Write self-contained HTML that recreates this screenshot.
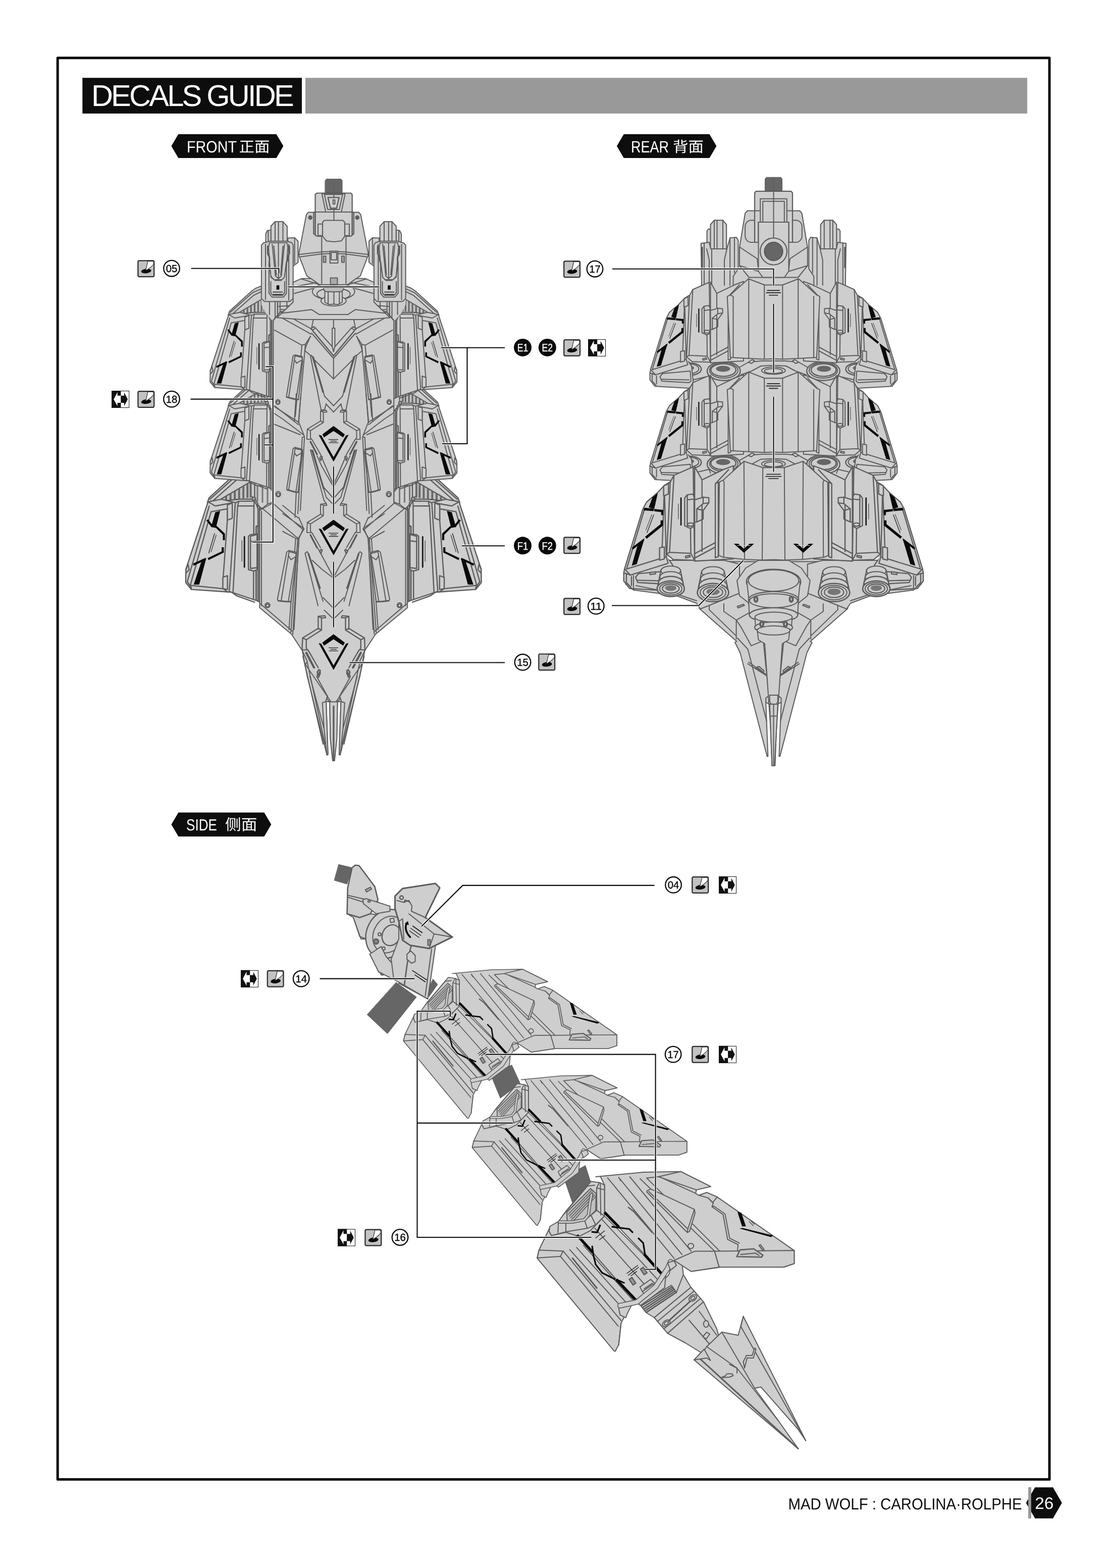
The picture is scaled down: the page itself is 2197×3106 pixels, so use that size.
<!DOCTYPE html>
<html><head><meta charset="utf-8"><title>Decals Guide</title>
<style>
html,body{margin:0;padding:0;background:#fff}
body{width:2197px;height:3106px;overflow:hidden;font-family:"Liberation Sans",sans-serif}
svg{display:block;position:absolute;left:0;top:0;will-change:transform;-webkit-font-smoothing:antialiased}
text{font-family:"Liberation Sans",sans-serif;text-rendering:geometricPrecision}
</style></head><body>
<svg width="2197" height="3106" viewBox="0 0 2197 3106">
<rect x="0" y="0" width="2197" height="3106" fill="#fff"/>
<rect x="114.2" y="114.8" width="1964.8" height="2815.7" fill="none" stroke="#0a0a0a" stroke-width="5" stroke-linejoin="round"/>
<rect x="163.3" y="154.2" width="434.7" height="70.7" fill="#0d0d0d"/>
<rect x="605" y="154.2" width="1430" height="70.7" fill="#999"/>
<text x="180.9" y="210.4" font-size="59.5" fill="#fff" textLength="401.7" lengthAdjust="spacing">DECALS GUIDE</text>
<path d="M340.3,289.4 L353.8,266.5 L547,266.5 L560.5,289.4 L547,312.3 L353.8,312.3Z" fill="#0d0d0d" stroke="#0d0d0d" stroke-width="1.5" stroke-linejoin="round"/>
<text x="370" y="301.8" font-size="32.5" fill="#fff" textLength="99" lengthAdjust="spacingAndGlyphs" style="font-family:'Liberation Sans','Noto Sans CJK SC',sans-serif">FRONT</text>
<text x="473.5" y="300.5" font-size="29" fill="#fff" textLength="61" lengthAdjust="spacingAndGlyphs" style="font-family:'Liberation Sans','Noto Sans CJK SC',sans-serif">正面</text>
<path d="M1222.8,289.4 L1236.3,266.5 L1405,266.5 L1418.5,289.4 L1405,312.3 L1236.3,312.3Z" fill="#0d0d0d" stroke="#0d0d0d" stroke-width="1.5" stroke-linejoin="round"/>
<text x="1250" y="301.8" font-size="32.5" fill="#fff" textLength="75" lengthAdjust="spacingAndGlyphs" style="font-family:'Liberation Sans','Noto Sans CJK SC',sans-serif">REAR</text>
<text x="1333" y="300.5" font-size="29" fill="#fff" textLength="61" lengthAdjust="spacingAndGlyphs" style="font-family:'Liberation Sans','Noto Sans CJK SC',sans-serif">背面</text>
<path d="M340.3,1633.2 L353.8,1610.3 L523,1610.3 L536.5,1633.2 L523,1656.2 L353.8,1656.2Z" fill="#0d0d0d" stroke="#0d0d0d" stroke-width="1.5" stroke-linejoin="round"/>
<text x="369" y="1645" font-size="32" fill="#fff" textLength="61" lengthAdjust="spacingAndGlyphs" style="font-family:'Liberation Sans','Noto Sans CJK SC',sans-serif">SIDE</text>
<text x="446" y="1644" font-size="30" fill="#fff" textLength="63.5" lengthAdjust="spacingAndGlyphs" style="font-family:'Liberation Sans','Noto Sans CJK SC',sans-serif">侧面</text>
<rect x="2037" y="2946" width="5.8" height="62" fill="#999"/>
<path d="M2103.8,2977 2086,3007.8 2050.4,3007.8 2032.6,2977 2050.4,2946.2 2086,2946.2Z" fill="#0d0d0d"/>
<rect x="2037" y="2946" width="5.8" height="62" fill="#999"/>
<text x="1561.5" y="2990.2" font-size="31.5" fill="#0d0d0d" textLength="463" lengthAdjust="spacingAndGlyphs">MAD WOLF : CAROLINA·ROLPHE</text>
<text x="2068.8" y="2988.5" font-size="33" fill="#fff" text-anchor="middle" textLength="37" lengthAdjust="spacingAndGlyphs">26</text>
<defs><g id="fpod" fill="#cecece" stroke="#5c5c5c" stroke-width="2" stroke-linejoin="round" stroke-linecap="round">
<path d="M451.9,624.4 454.8,616.5 498.1,576.9 506.2,571.2 518.1,566.5 530,567.5 530,618.8 535,625 535,635 500,625 465,632.5Z"/>
<path d="M456.2,618.8 500,580 518.1,571.9 M460,622.5 502.5,585 518.1,577.5" fill="none"/>
<path d="M473.1,622.2 474,618.8 521.2,591.2 523.5,592.8 523.5,613.8 528.1,616.2 528.1,618.8 503.8,618.8Z" fill="#c4c4c4"/>
<path d="M481.2,615 484.5,613.1 484.5,620.8 481.2,621.1Z" fill="#686868" stroke="none"/>
<path d="M488.5,610.8 491.8,608.9 491.8,619.9 488.5,620.2Z" fill="#686868" stroke="none"/>
<path d="M495.6,606.5 498.9,604.6 498.9,619 495.6,619.4Z" fill="#686868" stroke="none"/>
<path d="M502.8,602.4 506,600.5 506,618.1 502.8,618.5Z" fill="#686868" stroke="none"/>
<path d="M509.8,598.2 513,596.4 513,617.2 509.8,617.6Z" fill="#686868" stroke="none"/>
<path d="M516.5,594.4 519.8,592.5 519.8,616.5 516.5,616.9Z" fill="#686868" stroke="none"/>
<path d="M521.9,591.1 525.1,589.2 525.1,615.9 521.9,616.2Z" fill="#686868" stroke="none"/>
<path d="M473.1,622.2 503.8,618.8 528.1,618.8" fill="none"/>
<circle cx="528.8" cy="618.1" r="2.8" fill="#aaa" stroke="#5c5c5c" stroke-width="2"/>
<path d="M453.1,623.1 475,618.8 498.1,624.4 495,772.5 485,771.9 425.6,767.8 416.2,756.5 416.5,734.4Z"/>
<path d="M455,630.2 418.8,755 425.6,765 M453.1,623.1 465,630 492.5,625 M416.5,734.4 420,726.2 421.9,735 417.5,740" fill="none"/>
<path d="M458.1,639.4 485,634.8 485,653.1 478.1,747.5 478.1,766.5 423.8,761Z"/>
<path d="M423.8,761 425.6,767.8 M478.1,766.5 485,771.9" fill="none"/>
<path d="M485,628.1 493.1,625.2 493.1,650.2 485,653.5Z"/>
<path d="M477.5,747.8 485.2,745 485.2,767.8 477.5,766.5Z"/>
<path d="M465,640.4 473.1,638.2 466,666.2 458.1,664.8Z" fill="#0a0a0a" stroke="none"/>
<path d="M450.2,654 453.1,651.9 460.6,661.9 459,665.2Z" fill="#0a0a0a" stroke="none"/>
<path d="M464.8,664.8 466.9,662.5 481,675.6 481,686.5 477.5,686.5 477.5,677.5Z" fill="#0a0a0a" stroke="none"/>
<path d="M475.6,698.1 479.1,698.1 479.1,706.9 453.8,719.4 452.5,716 475.6,705Z" fill="#0a0a0a" stroke="none"/>
<path d="M442.5,720.6 450.2,716.2 438.5,759.8 429.4,759.8Z" fill="#0a0a0a" stroke="none"/>
<path d="M428.1,725.2 448.8,715.6 449.8,718.8 429.4,728.8Z" fill="#0a0a0a" stroke="none"/>
<path d="M463.8,675.6 454.4,707.5" fill="none" stroke="#333" stroke-width="1.3"/>
<path d="M466.5,678.1 458.1,705.6" fill="none" stroke="#333" stroke-width="1"/>
<path d="M535,627.5 541.5,635 541.5,790 535,786.9Z"/>
<path d="M538.1,632.5 538.1,788.1" fill="none" stroke="#555" stroke-width="2.4"/>
<path d="M498.1,624.8 503.8,622.2 529.4,622 532.8,626.9 535.6,635 535.6,786.9 530,785 492.5,772.5 488.1,771.2Z"/>
<path d="M503.8,622.2 501.9,630 494.4,771.9 M529.4,622 528.8,630 528.1,783.8 M501.9,630 528.8,630" fill="none"/>
<path d="M535.6,662.5 532.5,663.8 532.5,784.4" fill="none" stroke="#555" stroke-width="2.2"/>
<path d="M519.8,680 523.1,677.5 534,676.2 534,735 528.8,737.5 519.8,735Z"/>
<path d="M523.1,680 534,676.9 534,687.5 523.1,688.8Z"/>
<path d="M523.1,688.8 523.1,733.1 533.8,731.9" fill="none"/>
<path d="M513.1,681 513.1,731" fill="none" stroke="#1a1a1a" stroke-width="2.4" stroke-dasharray="2.2 0.6"/>
<path d="M509,687.5 509,721.2" fill="none" stroke="#444" stroke-width="1.1" stroke-dasharray="1.6 0.8"/>
<path d="M492.5,772.5 500,778.1 530,788.8" fill="none"/>
</g></defs>
<g id="fpodsL" fill="#cecece" stroke="#5c5c5c" stroke-width="2" stroke-linejoin="round" stroke-linecap="round">
<path d="M518,600 543,600 543,1012 518,1012Z" stroke="none"/>
<path d="M519,760 541,757 M519,772 541,769 M519,784 541,781 M519,940 541,937 M519,952 541,949 M519,964 541,961" fill="none" stroke="#777" stroke-width="2.6"/>
<path d="M480,958.8 532.5,963.8 541.2,975 541.2,1000 515,1012.5 500,991.2Z"/>
<path d="M490,962 490,985.5 M500,962.8 500,988.5 M510,963.5 510,991.5 M520,964.2 520,994.5 M530,965.2 530,997.5" fill="none" stroke="#777" stroke-width="3"/>
<use href="#fpod" transform="translate(503,988) scale(1.2) translate(-528.8,-618.1)"/>
<use href="#fpod" transform="translate(0,180)"/>
<use href="#fpod"/>
</g>
<use href="#fpodsL" transform="matrix(-1 0 0 1 1321.5 0)"/>
<g id="fpyl" fill="#cecece" stroke="#5c5c5c" stroke-width="2" stroke-linejoin="round" stroke-linecap="round">
<path d="M517.9,586.2 580.7,586.2 580.7,600.9 563.4,634.2 541.3,636.7 526.5,620.6 517.9,603.4Z" stroke="none"/>
<path d="M533.9,597.2 533.9,623.1 M568.4,597.2 568.4,618.2" fill="none"/>
<path d="M545,596 554.8,596 554.8,629.3 545,629.3Z"/>
<path d="M549.9,596 549.9,629.3" fill="none" stroke-width="2.4"/>
<path d="M570.3,471.6 583.6,470.9 590.5,477.8 590.5,519.7 580.7,527 570.3,527Z"/>
<path d="M583.6,470.9 583.6,522.1" fill="none"/>
<path d="M526.5,463 529.7,456.8 536.8,455.6 536.8,480.2 526.5,480.2Z"/>
<path d="M531.4,456.8 531.4,480.2" fill="none"/>
<path d="M536.8,447.7 545,439.1 560.5,439.1 568.9,448.2 568.9,480.2 536.8,480.2Z"/>
<path d="M545,439.1 545,480.2 M551.6,439.1 551.6,480.2 M560.5,439.1 560.5,480.2" fill="none"/>
<path d="M517.9,485.7 521.6,481.5 533.9,477.8 568.4,477.8 577.7,480.7 580.7,485.2 580.7,591.1 574.5,597.2 524,597.2 517.9,591.1Z"/>
<path d="M526,483.9 526,593.5 M572.1,483.9 572.1,594.8" fill="none"/>
<path d="M533.9,480.7 568.4,480.7 570.3,490.1 565.9,546.7 559.8,554.1 542.5,554.1 536.4,546.7 531.9,490.1Z"/>
<path d="M539.3,483.9 545.7,546.7 551.6,551.7 557.3,546.7 563.4,483.9 M551.6,480.7 551.6,552.9 M542.5,487.6 547.4,544.3 M560.5,487.6 556.1,544.3" fill="none"/>
<path d="M530.2,487.6 530.2,502.4 533.9,509.8 533.9,517.2 M573.3,487.6 573.3,502.4 569.6,509.8 569.6,517.2" fill="none" stroke="#555" stroke-width="2.6"/>
<path d="M532.9,518.4 532.9,581.2 539.3,588.6 561.5,588.6 567.4,581.2 567.4,518.4 563.4,549.2 557.3,555.4 545,555.4 536.8,549.2Z"/>
<path d="M536.4,557.8 536.4,580 540.8,584.9 559.8,584.9 563.9,580 563.9,557.8" fill="none"/>
<path d="M547.7,565.2 553.3,565.2 553.3,573.8 547.7,573.8Z" fill="#0a0a0a" stroke="none"/>
<path d="M540.8,578.5 559.8,578.5" fill="none" stroke="#222" stroke-width="1.5" stroke-dasharray="1.4 0.5"/>
<path d="M541.5,583.2 559,583.2" fill="none" stroke="#222" stroke-width="1.5" stroke-dasharray="1.4 0.5"/>
</g>
<use href="#fpyl" transform="matrix(-1 0 0 1 1321.5 0)"/>
<g id="fhullC" fill="#cecece" stroke="#5c5c5c" stroke-width="2" stroke-linejoin="round" stroke-linecap="round">
<path d="M660.8,600 556,617.5 541.3,634.5 541.3,996 514.3,1011 514.3,1203.8 577.5,1256.2 598.8,1288.8 608.7,1340 647.6,1495.5 649.7,1494.6 646.1,1389.5 653.1,1390.2 654.5,1462.7 659.1,1506.7 662.4,1506.7 667,1462.7 668.4,1390.2 675.4,1389.5 671.8,1494.6 673.9,1495.5 712.8,1340 722.7,1288.8 744,1256.2 807.2,1203.8 807.2,1011 780.2,996 780.2,634.5 765.5,617.5 660.8,600Z"/>
</g>
<defs><g id="femb" fill="#cecece" stroke="#5c5c5c" stroke-width="2" stroke-linejoin="round" stroke-linecap="round">
<path d="M638.5,860.4 660.8,843.8 683.1,860.4 679.8,866.6 660.8,853.8 641.9,866.6Z" fill="#0a0a0a" stroke="none"/>
<path d="M631.2,861.5 636.5,862.5 660.8,905.6 685.4,862.5 690.6,861.5 660.8,914.4Z" fill="#0a0a0a" stroke="none"/>
<path d="M651.4,870.6 670.1,870.6" fill="none" stroke="#222" stroke-width="1.3" stroke-dasharray="1.2 0.5"/>
<path d="M655.1,873.8 666.4,873.8" fill="none" stroke="#222" stroke-width="1.3" stroke-dasharray="1.2 0.5"/>
<path d="M652,876.9 669.5,876.9" fill="none" stroke="#222" stroke-width="1.3" stroke-dasharray="1.2 0.5"/>
</g><g id="fhouse" fill="#cecece" stroke="#5c5c5c" stroke-width="2" stroke-linejoin="round" stroke-linecap="round">
<path d="M646.2,812.8 635,814 635,834 608.8,850.2 607.9,870 615,870.2 M647.5,816.2 640.6,816.5 640.6,836.9 615,853.1 615,867.5 618.8,871.9 M646.2,812.8 647.5,816.2 M635,814 640.6,816.5 M635,834 640.6,836.9 M608.8,850.2 615,853.1" fill="none"/>
<path d="M615,875 628.1,900" fill="none" stroke="#5a5a5a" stroke-width="3.4"/>
<path d="M618.8,871.9 635,900" fill="none"/>
<path d="M633.1,907.5 636.2,903.1 638.8,905 635.6,912.5Z" fill="#999"/>
</g></defs>
<g id="fhullL" fill="#cecece" stroke="#5c5c5c" stroke-width="2" stroke-linejoin="round" stroke-linecap="round">
<path d="M551.9,606.9 611.9,603.1 625,612.8 M556.9,613.1 623.8,617.5 M541.9,634.4 555.6,617.5 617.5,651.9 M551.2,625.6 616.2,661.9 M543.8,653.8 598.1,683.8 605,681.9 615,666.2 M598.1,683.8 585,825 M605,681.9 591.2,837.5 M624.6,614.4 616.6,653.1 M624.6,614.4 660.8,614.4" fill="none"/>
<path d="M628.1,620 631.2,618.1 638.8,629.4 635.6,631.2Z" fill="#999"/>
<path d="M616.2,650.6 621.9,646.9 625,650 619.4,653.8Z"/>
<path d="M625,649.4 658.8,687.5" fill="none"/>
<path d="M619.4,655 660.8,705" fill="none" stroke-width="2.6"/>
<path d="M617.5,660 660.8,710 M615,666.2 606.2,686.2 603.8,694.4 616.2,705 M622.5,712.5 660.8,750.6 M615,705 636.2,812.5 M616.2,703.8 618.1,705 643.1,785" fill="none"/>
<path d="M620.2,707.5 640,776.2" fill="none" stroke="#5a5a5a" stroke-width="3.6"/>
<path d="M636.2,812.5 643.1,811.2 646.2,800 M643.1,785 660.8,803.8 M645.6,800 660.8,816.2" fill="none"/>
<path d="M580.6,705 584.4,703.1 598.8,706.2 599.4,716.2 591.2,791.2 585,791 568.1,786.5 567.5,785Z"/>
<path d="M584.6,703.8 571.9,786.9 M598.1,714.4 586.9,790.6 M585,705 598.1,707.8 599,712.5 587.5,719.4 584,713.8" fill="none"/>
<path d="M568.1,786.5 585,791 591.2,791.2" fill="none" stroke-width="3"/>
<ellipse cx="550.6" cy="796.2" rx="4.2" ry="4.8" fill="#cecece" stroke="#5c5c5c" stroke-width="2"/>
<ellipse cx="550.6" cy="797.2" rx="2.8" ry="3" fill="#cecece" stroke="#5c5c5c" stroke-width="2"/>
<path d="M543.8,803.8 591.2,841.2 M542.5,840 595,861.2 M615,891.2 641.9,991.2 M615,891.2 619.8,892.5 646.2,985" fill="none"/>
<path d="M618.5,892.5 641,967.5" fill="none" stroke="#5a5a5a" stroke-width="3.4"/>
<path d="M635,900.6 659.4,957.5 M628.1,903.1 637.5,923.8 658.8,961.2 M641,965 660.8,987.5 M646.2,985 660.8,1000 M641.9,991.2 646.2,997.5" fill="none"/>
<path d="M580.6,888.8 584.4,886.2 598.8,890 599.4,897.5 590.6,975 585,974.8 568.8,970.2 568.1,967.5Z"/>
<path d="M584.8,887.2 571.9,970.6 M598.1,896.9 586.2,974.4 M585,888.8 598.1,891.5 599,896.2 587.5,903.1 584,897.5" fill="none"/>
<path d="M568.8,970.2 585,974.8 590.6,975" fill="none" stroke-width="3"/>
<path d="M586.9,780 583.1,835 M596.2,780 591.9,836.2 603.1,865 598.8,866.2 590,1017.5 M603.1,866.2 595,1011.2 M560,816.2 591.2,836.2 M560,830 601.2,861.2 M541.2,817.5 560,830 M541.2,803.8 560,816.2 M604.4,1096.2 630,1200 M604.4,1096.2 608.1,1092.8 610,1094.4 640,1191.2" fill="none"/>
<path d="M611.2,1097.5 633.8,1165" fill="none" stroke="#5a5a5a" stroke-width="3.4"/>
<path d="M630,1086.2 659.4,1141.2 M618.8,1110 637.5,1127.5 658.8,1143.8 M640,1183.8 660.8,1205 M642.5,1208.8 660.8,1226.2 M586.9,975 584.4,1025 M591.9,1025 601.2,1046.2 592.5,1066.2 585.6,1067.5 572.5,1247 M591.9,1068.8 582.5,1247 M560,1001.2 591.2,1026.2 M560,1017.5 601.2,1046.2 M560,1052.5 585,1066.2 M514.2,1011.2 530,998.8 540,995 M518,1012.5 518,1200 M518.8,1006.2 590,1066.2 M540,996.2 601.2,1050" fill="none"/>
<path d="M568,1093.8 572.5,1090.5 586.2,1093.8 587.5,1102.5 576.2,1192 565,1191.5 551.2,1190 549.5,1187.5Z"/>
<path d="M573,1091.2 557,1190 M586.2,1100 571.2,1191.2 M573.8,1093 586.2,1096.2 587,1102 576.2,1108.8 571.2,1100" fill="none"/>
<path d="M551.2,1190 565,1191.5 576.2,1192" fill="none" stroke-width="3"/>
<path d="M590,1065 576.2,1252.5 M602.5,1047.5 592.5,1063.8 580,1256.2 M516.2,1196.2 578.8,1250" fill="none"/>
<circle cx="530" cy="1198.8" r="4.8" fill="#cecece" stroke="#5c5c5c" stroke-width="2"/>
<circle cx="530" cy="1199.5" r="3" fill="#cecece" stroke="#5c5c5c" stroke-width="2"/>
<ellipse cx="551.2" cy="978.8" rx="4.8" ry="5.2" fill="#cecece" stroke="#5c5c5c" stroke-width="2"/>
<ellipse cx="551.2" cy="979.8" rx="3" ry="3.2" fill="#cecece" stroke="#5c5c5c" stroke-width="2"/>
<path d="M598.8,1288.8 608.8,1310 605,1316.2 660.8,1397.5 M600,1300 640,1474 M608.8,1312.5 643.8,1474" fill="none"/>
<path d="M628,1337.5 632,1330.5 635,1333 631.2,1342Z" fill="#999"/>
<path d="M627.2,1340 648.6,1378.7 647.6,1384.3 660.9,1398.4 M613.9,1340 642,1443.4" fill="none"/>
<path d="M638.7,1392 646.1,1389.5 649.7,1494.6 647.6,1495.5 642,1443.4Z"/>
<path d="M648.6,1378.7 645.2,1389.5" fill="none"/>
<use href="#fhouse"/>
<use href="#fhouse" transform="translate(0,184.7)"/>
<use href="#fhouse" transform="translate(660.8,1256.2) scale(1.18) translate(-660.8,-843.8)"/>
</g>
<use href="#fhullL" transform="matrix(-1 0 0 1 1321.5 0)"/>
<g id="fhullC2" fill="#cecece" stroke="#5c5c5c" stroke-width="2" stroke-linejoin="round" stroke-linecap="round">
<path d="M660.8,603.1 660.8,650" fill="none"/>
<path d="M658.1,650 663.4,650 663.4,686.2 660.8,696.9 658.1,686.2Z"/>
<path d="M660.8,710 660.8,750.6" fill="none"/>
<path d="M653.1,1390.2 654.5,1462.7 659.1,1506.7 662.7,1506.7 667.4,1462.7 668.6,1390.2Z"/>
<path d="M660.9,1399.1 660.9,1506.3" fill="none" stroke="#5a5a5a" stroke-width="3.2"/>
<use href="#femb"/>
<use href="#femb" transform="translate(0,185.6)"/>
<use href="#femb" transform="translate(0,412.5)"/>
</g>
<g id="fhead" fill="#cecece" stroke="#5c5c5c" stroke-width="2" stroke-linejoin="round" stroke-linecap="round">
<path d="M661.5,549.2 632.4,551.7 597.9,551.7 580.7,559.1 580.7,598.5 548.7,629.3 597.9,633 661.5,633 660,633 723.6,633 772.8,629.3 740.8,598.5 740.8,559.1 723.6,551.7 689.1,551.7 660,549.2Z"/>
<path d="M557.3,620.6 617.6,613.3 632.4,623.1 661.5,623.1 660,623.1 689.1,623.1 703.9,613.3 764.2,620.6" fill="none"/>
<ellipse cx="660.8" cy="577.5" rx="42" ry="17" />
<ellipse cx="660.8" cy="582.5" rx="33" ry="12" />
<ellipse cx="660.8" cy="596" rx="25" ry="10" />
<path d="M643.5,572.6 643.5,598.5 652.1,603.4 661.5,602.2 660,602.2 669.4,603.4 678,598.5 678,572.6Z"/>
<path d="M650.1,576.3 650.1,600.9 M672.3,576.3 672.3,600.9 M661.5,576.3 661.5,602.2" fill="none"/>
<path d="M641,570.1 641,573.8 644.7,577.5 661.5,578.3 660,578.3 676.8,577.5 680.5,573.8 680.5,570.1Z" fill="#bbb"/>
<path d="M572.1,570.1 630,559.1 M583.2,581.2 632.4,567.7 M750.6,570.1 692.8,559.1 M739.6,581.2 690.3,567.7" fill="none"/>
<path d="M661.5,420.6 610.7,420.6 607,424.8 592,502.4 592.5,506.8 607.8,546.7 617.6,552.9 632.4,563.5 661.5,564.5 660,564.5 689.1,563.5 703.9,552.9 713.7,546.7 729,506.8 729.5,502.4 714.5,424.8 710.8,420.6 660,420.6Z"/>
<path d="M593,503.9 637.3,499 661.5,498 660,498 684.2,499 728.5,503.9 M595,508.8 637.3,502.9 661.5,501.9 660,501.9 684.2,502.9 726.5,508.8 M637.3,467.9 637.3,561.5 M685.4,467.9 685.4,561.5" fill="none"/>
<circle cx="614.7" cy="431" r="3.2" fill="#cecece" stroke="#5c5c5c" stroke-width="2.4"/>
<circle cx="707.8" cy="431" r="3.2" fill="#cecece" stroke="#5c5c5c" stroke-width="2.4"/>
<circle cx="614.7" cy="431" r="1.2" fill="#cecece" stroke="#5c5c5c" stroke-width="2"/>
<circle cx="707.8" cy="431" r="1.2" fill="#cecece" stroke="#5c5c5c" stroke-width="2"/>
<path d="M653.6,497.5 669.4,497.5 669.4,520.9 653.6,520.9Z"/>
<path d="M656.1,500 666.9,500 666.9,514.7 656.1,514.7Z"/>
<path d="M640.5,507.3 645.5,507.3 645.5,519.7 640.5,519.7Z" fill="#aaa"/>
<path d="M677,507.3 681.9,507.3 681.9,519.7 677,519.7Z" fill="#aaa"/>
<path d="M654.6,550.4 668.4,550.4 668.4,563.5 654.6,563.5Z" fill="#aaa"/>
<path d="M597.9,552.9 632.4,563.5 M724.8,552.9 690.3,563.5" fill="none"/>
<path d="M621.3,421.1 624.5,419.9 624.5,385.4 627.5,382.5 695.2,382.5 697.7,385.4 697.7,419.9 700.9,421.1 700.9,463 695.2,467.9 685.4,467.9 685.4,445.8 637.3,445.8 637.3,467.9 627.5,467.9 621.3,463Z" stroke-width="2.2"/>
<path d="M624.5,419.9 697.7,419.9" fill="none"/>
<path d="M624.5,421.6 624.5,464.2 M697.7,421.6 697.7,464.2" fill="none" stroke="#555" stroke-width="2.4"/>
<path d="M637.8,383.7 645.2,419.9 661.5,419.9 660,419.9 676.3,419.9 683.7,383.7Z"/>
<path d="M642.8,385.2 649.2,415 661.5,415 660,415 672.3,415 678.7,385.2Z"/>
<path d="M649.7,391.1 654.6,412.5 661.5,412.5 660,412.5 666.9,412.5 671.8,391.1Z" stroke-width="2.4"/>
<path d="M659.8,396 663.4,396 663.4,403.9 659.8,403.9Z"/>
<path d="M661.5,382.5 661.5,391.6 M661.5,415 661.5,437.1" fill="none"/>
<path d="M630,443.8 639.1,443.8 639.1,466.7 630,466.7Z"/>
<path d="M682.9,443.8 692,443.8 692,466.7 682.9,466.7Z"/>
<path d="M639.1,440.3 642.8,436.4 679.2,436.4 682.9,440.3 682.9,467.9 676.3,477.3 661.5,479 646.7,477.3 639.1,467.9Z"/>
<path d="M644.2,357.6 646.7,354.6 675.5,354.6 678,357.6 678,381.7 644.2,381.7Z" fill="#666" stroke="#5a5a5a" stroke-width="1"/>
<path d="M661.5,357.6 661.5,380.5" fill="none" stroke="#5a5a5a" stroke-width="1"/>
</g>
<defs><g id="rpod" fill="#cecece" stroke="#5c5c5c" stroke-width="2" stroke-linejoin="round" stroke-linecap="round">
<path d="M1287.5,738.8 1288.8,731.9 1360,711.2 1370,725 1373.8,760 1365,769 1297.5,765.2 1287.5,752.5Z"/>
<path d="M1291.9,740 1291.9,755 1300,763.8 M1300.6,745 1300.6,760" fill="none"/>
<path d="M1307.5,746.2 1312.5,740 1367.5,735 1368.8,755 1365,758.1 1311.2,755Z"/>
<path d="M1310,751.2 1365,752.5 M1287.5,738.8 1291.9,740 1298.8,742.5" fill="none"/>
<path d="M1355,590 1368.8,582.5 1363.1,717.5 1350,717.5Z" stroke="none"/>
<path d="M1367.5,583.8 1356.2,590.6 1343.8,603.8 1326.2,618.8 1320,630.2 1288.8,731.9 1298.8,742.5 1362.5,722.5 1359.4,711.2 1356.2,595 1363.1,587.5Z"/>
<path d="M1322.8,630.2 1292.2,732.2 M1292.2,732.2 1359.4,711.5 M1356.2,595 1352.5,695.6" fill="none"/>
<path d="M1355,591.5 1363.1,587.8 1363.1,605.2 1355,608.5Z"/>
<path d="M1348.1,696.2 1356.2,694.8 1356.2,715 1348.1,717.2Z"/>
<path d="M1336.2,610.6 1345.2,603.5 1339,630.6 1329.8,627.8Z" fill="#0a0a0a" stroke="none"/>
<path d="M1322.2,628.5 1338.5,630 1338.1,634.2 1321,632.8Z" fill="#0a0a0a" stroke="none"/>
<path d="M1339.1,630.5 1354.5,632 1354.5,641 1350.8,641 1350.8,635.8 1339.1,634.5Z" fill="#0a0a0a" stroke="none"/>
<path d="M1349.8,649.8 1354,649.8 1354,658.5 1326.2,681 1323.5,677.5 1349.8,656.2Z" fill="#0a0a0a" stroke="none"/>
<path d="M1311.2,690.6 1322.8,679.8 1309.5,724 1301,726.5Z" fill="#0a0a0a" stroke="none"/>
<path d="M1301.2,696 1321,681 1322.2,683.8 1302.8,699.4Z" fill="#0a0a0a" stroke="none"/>
<path d="M1338.1,640.6 1326.9,670.6" fill="none" stroke="#333" stroke-width="1.3" stroke-dasharray="1.5 0.6"/>
<path d="M1335,640 1325,666.2" fill="none" stroke="#444" stroke-width="1" stroke-dasharray="1.5 0.6"/>
<path d="M1366.2,585 1372.5,573.5 1404.4,559.4 1405.2,565 1407.5,717.5 1371.2,716.2 1360.2,706.9Z"/>
<path d="M1372.5,573.5 1365,704 1401,705.6 1407.5,717.5 M1365,704 1360.2,706.9 M1401,705.6 1400,620" fill="none"/>
<path d="M1391.9,710.6 1399.4,708.8 1400,711.5 1392.5,713.5Z"/>
<path d="M1390.6,611.9 1395,606.5 1404.4,605.2 1406.5,610 1406.5,660 1400,663.5 1390.6,659Z"/>
<path d="M1395,607.5 1395,660.6 M1395,615 1406.2,613.8" fill="none"/>
<ellipse cx="1400.6" cy="656.9" rx="5.2" ry="2.8"/>
<path d="M1407.5,615 1421.9,610.6 1431.5,611.5 1431.5,620 1421.9,621.5 1411.2,630.2 1411.2,652.5 1407.5,652.5Z"/>
<path d="M1421.9,610.6 1421.9,621.5 M1411.2,630.2 1421.9,633.1 1431.5,620 M1421.9,633.1 1421.9,647.5 1411.2,652.5" fill="none"/>
<path d="M1384.4,612.2 1384.4,657.5" fill="none" stroke="#1a1a1a" stroke-width="2.4" stroke-dasharray="2.2 0.6"/>
<path d="M1380,621.9 1380,648.1" fill="none" stroke="#444" stroke-width="1.1" stroke-dasharray="1.6 0.8"/>
</g><g id="rsegL" fill="#cecece" stroke="#5c5c5c" stroke-width="2" stroke-linejoin="round" stroke-linecap="round">
<path d="M1407.5,558.8 1420,581.2 1456.2,563.8 1473,557.5 1473,715 1407.5,718.8Z"/>
<path d="M1420,581.2 1420,702.5 M1442.5,587.8 1465,564" fill="none"/>
<path d="M1442.5,587.8 1447.5,585 1447.5,711.2 1442.5,713.1Z"/>
<path d="M1407.5,706.2 1442.5,687.5 M1407.5,713.8 1442.5,695" fill="none"/>
</g><g id="rbellsS" fill="#cecece" stroke="#5c5c5c" stroke-width="2" stroke-linejoin="round" stroke-linecap="round">
<path d="M1357.5,712.5 1442.5,677.5 1532.5,677.5 1532.5,765 1407.5,752.5 1370,768.8Z" stroke="none"/>
<ellipse cx="1433.8" cy="735" rx="32.8" ry="18.8" stroke-width="2.4"/>
<ellipse cx="1433.8" cy="733.8" rx="28.1" ry="15.2"/>
<ellipse cx="1433.1" cy="733.1" rx="24.8" ry="12.5" stroke-width="2.4"/>
<ellipse cx="1432.5" cy="730.6" rx="14" ry="6" fill="#666" stroke="none"/>
<ellipse cx="1366.2" cy="731.2" rx="23.1" ry="12.2" stroke-width="2.4"/>
<ellipse cx="1365.6" cy="730.6" rx="18.8" ry="9.5"/>
<ellipse cx="1363.1" cy="729" rx="11.9" ry="5.2" fill="#666" stroke="none"/>
<path d="M1372.5,752.5 1405,745 1407.5,752.5 M1465,727.5 1482.5,717.5 1507.5,715 1532.5,715 M1467.5,742.5 1488.8,735 1507.5,725 1532.5,723.8" fill="none"/>
<path d="M1482.5,717.5 1490,712.5 1495,715 1488.8,720Z"/>
</g><g id="rblk" fill="#cecece" stroke="#5c5c5c" stroke-width="2" stroke-linejoin="round" stroke-linecap="round">
<ellipse cx="1532.3" cy="734.1" rx="23.6" ry="7.2"/>
<ellipse cx="1532.3" cy="735" rx="17.9" ry="4.9"/>
<path d="M1532.3,564.5 1514.7,564.5 1482.7,552.2 1446.9,584.3 1440.7,587.1 1446.9,708.1 1482.7,710 1514.2,711.5 1532.3,710.7 1532.5,710.7 1550.6,711.5 1582.1,710 1617.9,708.1 1624.1,587.1 1617.9,584.3 1582.1,552.2 1550.1,564.5 1532.5,564.5Z"/>
<path d="M1446.9,584.3 1452.5,587.1 1452.5,708.1 M1483.3,552.8 1483.3,710 M1514.2,564.5 1514.2,711.1 M1612,587.1 1612,708.1 M1581.2,552.8 1581.2,710 M1550.3,564.5 1550.3,711.1" fill="none"/>
<path d="M1520,575.4 1544.5,575.4" fill="none" stroke="#1a1a1a" stroke-width="1.6" stroke-dasharray="1.3 0.45"/>
<path d="M1518.1,579.9 1546.4,579.9" fill="none" stroke="#1a1a1a" stroke-width="1.6" stroke-dasharray="1.3 0.45"/>
<path d="M1523.8,584.7 1540.7,584.7" fill="none" stroke="#1a1a1a" stroke-width="1.6" stroke-dasharray="1.3 0.45"/>
</g></defs>
<g id="rback" fill="#cecece" stroke="#5c5c5c" stroke-width="2" stroke-linejoin="round" stroke-linecap="round">
<path d="M1532.4,526 1458,526 1404,600 1404,930 1372,930 1372,1180 1392,1195 1532.4,1195 1532.4,1195 1672.8,1195 1692.8,1180 1692.8,930 1660.8,930 1660.8,600 1606.8,526 1532.4,526Z" stroke="none"/>
</g>
<g id="rpyl" fill="#cecece" stroke="#5c5c5c" stroke-width="2" stroke-linejoin="round" stroke-linecap="round">
<path d="M1400.5,457.5 1403,453.8 1408,453.8 1408,493.8 1400.5,493.8Z"/>
<path d="M1407.5,445 1415,436.2 1432,436.2 1439.2,445 1439.2,493.8 1407.5,493.8Z"/>
<path d="M1415,436.2 1415,493.8 M1420.5,436.2 1420.5,493.8 M1432,436.2 1432,493.8" fill="none"/>
<path d="M1388.8,482 1405,480 1408,493 1440,493 1446.2,471.2 1458.8,470 1462.5,476.2 1462.5,532.5 1452.5,547.5 1452.5,566.2 1390,566.2Z"/>
<path d="M1390,565 1452.5,565 1452.5,592.5 1390,592.5Z" stroke="none"/>
<path d="M1395,481.2 1395,566.2 M1410,493 1410,566.2 M1400,493 1405,515 1405,565 M1446.2,471.2 1446.2,565 M1440,493 1435,515 1435,565 M1455,471.2 1455,540" fill="none"/>
<path d="M1391.2,490 1391.2,530" fill="none" stroke="#555" stroke-width="2.6"/>
</g>
<use href="#rpyl" transform="matrix(-1 0 0 1 3064.8 0)"/>
<g id="rhead" fill="#cecece" stroke="#5c5c5c" stroke-width="2" stroke-linejoin="round" stroke-linecap="round">
<path d="M1532.5,417.5 1480.5,417.5 1476.2,422.5 1465,490 1465,526.2 1483.8,549.5 1532.5,549.5 1532.3,549.5 1581.1,549.5 1599.8,526.2 1599.8,490 1588.6,422.5 1584.3,417.5 1532.3,417.5Z"/>
<rect x="1476.2" y="436.2" width="26.8" height="43.8" rx="12.5"/>
<rect x="1562" y="436.2" width="26.8" height="43.8" rx="12.5"/>
<path d="M1466.2,490 1500,512.5 1502.5,535 M1598.8,490 1565,512.5 1562.5,535 M1465,526.2 1502.5,537.5 M1600,526.2 1562.5,537.5" fill="none"/>
<path d="M1495,382 1498,378.8 1567,378.8 1570,382 1570,480 1562.5,480 1562.5,440 1502.5,440 1502.5,480 1495,480Z" stroke-width="2.2"/>
<path d="M1506.2,440 1506.2,393.8 1558.8,393.8 1558.8,440 M1511.2,440 1511.2,398.8 1553.8,398.8 1553.8,440 M1495,417.5 1506.2,417.5 M1558.8,417.5 1570,417.5" fill="none"/>
<path d="M1502.5,440 1562.5,440 1562.5,537.5 1553.8,549.5 1511.2,549.5 1502.5,537.5Z"/>
<path d="M1532.5,378.8 1532.5,472.5" fill="none"/>
<circle cx="1532.5" cy="498" r="26.5" fill="#cecece" stroke="#5c5c5c" stroke-width="2.2"/>
<circle cx="1532.5" cy="498" r="18.2" fill="#666" stroke="#5a5a5a" stroke-width="2"/>
<path d="M1515.8,354.2 1518.2,351.2 1547,351.2 1549.5,354.2 1549.5,378 1515.8,378Z" fill="#666" stroke="#5a5a5a" stroke-width="1"/>
<path d="M1532.5,352.5 1532.5,377.5" fill="none" stroke="#5a5a5a" stroke-width="1"/>
</g>
<g id="rsegsL" fill="#cecece" stroke="#5c5c5c" stroke-width="2" stroke-linejoin="round" stroke-linecap="round">
<use href="#rbellsS"/>
<use href="#rsegL"/>
<use href="#rpod"/>
<use href="#rbellsS" transform="translate(0,184.7)"/>
<use href="#rsegL" transform="translate(0,184.7)"/>
<use href="#rpod" transform="translate(0,184.7)"/>
</g>
<use href="#rsegsL" transform="matrix(-1 0 0 1 3064.8 0)"/>
<use href="#rblk"/>
<use href="#rblk" transform="translate(0,184.7)"/>
<g id="rbot" fill="#cecece" stroke="#5c5c5c" stroke-width="2" stroke-linejoin="round" stroke-linecap="round">
<path d="M1532.5,1112.5 1430,1112.5 1385,1198.8 1385.5,1205.5 1459.5,1270.5 1456,1272.5 1466.2,1292.8 1519.7,1498.3 1521.4,1498.3 1517.2,1391.3 1524.8,1394.7 1529.4,1516.6 1535.4,1516.6 1540,1394.7 1547.6,1391.3 1543.4,1498.3 1545.1,1498.3 1598.6,1292.8 1608.8,1272.5 1605.3,1270.5 1679.3,1205.5 1679.8,1198.8 1634.8,1112.5 1532.3,1112.5Z"/>
</g>
<g id="rbotL" fill="#cecece" stroke="#5c5c5c" stroke-width="2" stroke-linejoin="round" stroke-linecap="round">
<path d="M1405.1,1196 1405.1,1207.9 1457.7,1258.9 M1461.1,1264 1481.5,1286 1518.9,1428.7 M1458.6,1228.3 1458.6,1265.7 M1434,1196 1434,1211.3 1458.6,1228.3 1488.3,1211.3 1481.5,1190.9 M1467.9,1241.9 1488.3,1279.2 1512.1,1269.1 M1458.6,1228.3 1467.9,1241.9" fill="none"/>
<path d="M1460.3,1201.1 1473,1196.9 1474.7,1199.4 1462,1204.2Z" fill="#aaa"/>
<path d="M1481.5,1314.9 1518.9,1338.7 M1483.2,1311.5 1495.1,1320 1500.2,1325.1 1517.2,1335.3" fill="none"/>
<path d="M1499.3,1321.4 1503.6,1320 1513.8,1328.5 1512.1,1331.9Z" fill="#aaa"/>
<path d="M1512.1,1269.1 1524.8,1394.7" fill="none"/>
<path d="M1517.2,1382.8 1524.8,1376.9 1532.5,1376.9 1532.5,1393 1524.8,1394.7 1517.2,1391.3Z"/>
</g>
<use href="#rbotL" transform="matrix(-1 0 0 1 3064.8 0)"/>
<g id="rbaseL" fill="#cecece" stroke="#5c5c5c" stroke-width="2" stroke-linejoin="round" stroke-linecap="round">
<path d="M1240,1132.5 1325,1110 1435,1110 1465,1117.5 1465,1175 1387.5,1206.2 1380,1195 1340,1180 1255,1168.8 1240,1157.5Z"/>
</g>
<use href="#rbaseL" transform="matrix(-1 0 0 1 3064.8 0)"/>
<g id="rseg3L" fill="#cecece" stroke="#5c5c5c" stroke-width="2" stroke-linejoin="round" stroke-linecap="round">
<use href="#rsegL" transform="translate(1372.5,925) scale(1.17) translate(-1404.4,-559.4)"/>
<use href="#rpod" transform="translate(1372.5,925) scale(1.17) translate(-1404.4,-559.4)"/>
</g>
<use href="#rseg3L" transform="matrix(-1 0 0 1 3064.8 0)"/>
<g id="rbellsL" fill="#cecece" stroke="#5c5c5c" stroke-width="2" stroke-linejoin="round" stroke-linecap="round">
<path d="M1255,1140 1255,1168.8 M1260,1160 1335,1175 1380,1190" fill="none"/>
<path d="M1287.5,1133.8 1298.8,1132.5 1298.8,1137 1287.5,1138.2Z" fill="#aaa"/>
<path d="M1309.2,1128.8 1348,1128.8 1355.8,1166.2 1301.8,1166.2Z"/>
<ellipse cx="1328.8" cy="1130.6" rx="19.4" ry="9.3"/>
<ellipse cx="1328.8" cy="1143" rx="21.6" ry="10.8"/>
<ellipse cx="1328.8" cy="1155" rx="24.3" ry="13.2" stroke-width="2.4"/>
<ellipse cx="1328.8" cy="1166.2" rx="27" ry="15.5" stroke-width="2.6"/>
<ellipse cx="1328.8" cy="1166.2" rx="22.1" ry="12.4"/>
<ellipse cx="1328.8" cy="1165.8" rx="16.7" ry="9" stroke-width="2.2"/>
<ellipse cx="1328.8" cy="1164.8" rx="11.3" ry="5.6" fill="#777" stroke="none"/>
<path d="M1390,1131.2 1434.8,1131.2 1443.5,1173.8 1381.5,1173.8Z"/>
<ellipse cx="1412.5" cy="1133.4" rx="22.3" ry="10.8"/>
<ellipse cx="1412.5" cy="1147.4" rx="24.8" ry="12.6"/>
<ellipse cx="1412.5" cy="1161" rx="27.9" ry="15.3" stroke-width="2.4"/>
<ellipse cx="1412.5" cy="1173.8" rx="31" ry="18" stroke-width="2.6"/>
<ellipse cx="1412.5" cy="1173.8" rx="25.4" ry="14.4"/>
<ellipse cx="1412.5" cy="1173.2" rx="19.2" ry="10.4" stroke-width="2.2"/>
<ellipse cx="1412.5" cy="1172.2" rx="13" ry="6.5" fill="#777" stroke="none"/>
</g>
<use href="#rbellsL" transform="matrix(-1 0 0 1 3064.8 0)"/>
<g id="reng" fill="#cecece" stroke="#5c5c5c" stroke-width="2" stroke-linejoin="round" stroke-linecap="round">
<path d="M1532.5,1110 1502.5,1110 1477.5,1125 1460,1150 1465,1180 1483.8,1195 1581.1,1195 1599.8,1180 1604.8,1150 1587.3,1125 1562.3,1110 1532.3,1110Z"/>
<ellipse cx="1532.5" cy="1152.5" rx="53.8" ry="25" stroke-width="2.2"/>
<path d="M1532.5,1152.5 1479.5,1152.5 1483.8,1188.8 1581.1,1188.8 1585.3,1152.5 1532.3,1152.5Z"/>
<ellipse cx="1532.5" cy="1150" rx="50" ry="21.2"/>
<ellipse cx="1532.5" cy="1187.5" rx="49.5" ry="15.5" stroke-width="2.2"/>
<path d="M1532.5,1187.5 1483,1187.5 1484.5,1218.8 1580.3,1218.8 1581.8,1187.5 1532.3,1187.5Z"/>
<ellipse cx="1532.5" cy="1190" rx="47.5" ry="13.8"/>
<ellipse cx="1532.5" cy="1218" rx="48" ry="14" stroke-width="2.2"/>
<path d="M1532.5,1222.5 1495.5,1222.5 1497,1243.8 1567.8,1243.8 1569.3,1222.5 1532.3,1222.5Z"/>
<ellipse cx="1532.5" cy="1222.5" rx="37" ry="10"/>
<ellipse cx="1532.5" cy="1243" rx="37.5" ry="11" stroke-width="2.2"/>
<path d="M1532.5,1246.2 1500,1246.2 1502.5,1267.5 1515,1275 1528.8,1474 1536.1,1474 1549.8,1275 1562.3,1267.5 1564.8,1246.2 1532.3,1246.2Z"/>
<ellipse cx="1532.5" cy="1248.8" rx="32.5" ry="9"/>
<ellipse cx="1497.5" cy="1187" rx="4" ry="6"/>
<ellipse cx="1497.5" cy="1187" rx="2.2" ry="3.8"/>
<ellipse cx="1567.5" cy="1187" rx="4" ry="6"/>
<ellipse cx="1567.5" cy="1187" rx="2.2" ry="3.8"/>
<ellipse cx="1509" cy="1236.2" rx="4" ry="6"/>
<ellipse cx="1509" cy="1236.2" rx="2.2" ry="3.8"/>
<ellipse cx="1556" cy="1236.2" rx="4" ry="6"/>
<ellipse cx="1556" cy="1236.2" rx="2.2" ry="3.8"/>
<path d="M1524.8,1394.7 1529.4,1516.6 1534.5,1516.6 1540.9,1394.7Z"/>
<path d="M1532.5,1394.7 1532.5,1516.6 M1527.4,1418.5 1538.4,1418.5" fill="none"/>
<path d="M1524.8,1376.9 1540.9,1376.9 1540.9,1389.6 1538.4,1394.7 1527.4,1394.7 1524.8,1389.6Z"/>
</g>
<g id="rblk3" fill="#cecece" stroke="#5c5c5c" stroke-width="2" stroke-linejoin="round" stroke-linecap="round">
<path d="M1532.5,926.2 1511.2,926.2 1473.8,913.8 1432.5,951.2 1425,955 1423.8,1100 1432.5,1103.8 1473.8,1108 1511.2,1109.5 1532.5,1108.5 1532.3,1108.5 1553.6,1109.5 1591.1,1108 1632.3,1103.8 1641.1,1100 1639.8,955 1632.3,951.2 1591.1,913.8 1553.6,926.2 1532.3,926.2Z"/>
<path d="M1432.5,951.2 1434.5,954.5 1433.8,1103.8 M1473.8,913.8 1475,1108 M1511.2,926.2 1510,1109.5 M1632.5,951.2 1630.5,954.5 1631.2,1103.8 M1591.2,913.8 1590,1108 M1553.8,926.2 1555,1109.5" fill="none"/>
<path d="M1518.8,939.5 1546.2,939.5" fill="none" stroke="#1a1a1a" stroke-width="1.6" stroke-dasharray="1.3 0.45"/>
<path d="M1516.8,943.8 1548,943.8" fill="none" stroke="#1a1a1a" stroke-width="1.6" stroke-dasharray="1.3 0.45"/>
<path d="M1523,948 1541.8,948" fill="none" stroke="#1a1a1a" stroke-width="1.6" stroke-dasharray="1.3 0.45"/>
<path d="M1453.8,1077 1462.5,1077 1473.8,1087 1485,1077 1493.8,1077 1473.8,1095Z" fill="#0a0a0a" stroke="none"/>
<path d="M1461.2,1080.5 1486.2,1080.5" fill="none" stroke="#cecece" stroke-width="1.2"/>
<path d="M1571.2,1077 1580,1077 1591.2,1087 1602.5,1077 1611.2,1077 1591.2,1095Z" fill="#0a0a0a" stroke="none"/>
<path d="M1578.8,1080.5 1603.8,1080.5" fill="none" stroke="#cecece" stroke-width="1.2"/>
</g>
<defs><g id="spod" fill="#cecece" stroke="#5c5c5c" stroke-width="2" stroke-linejoin="round" stroke-linecap="round">
<path d="M1197.6,2347.7 1189.3,2330.2 1180.3,2331 1273.4,2322 1348.4,2320.7 1407.9,2350.4 1379.5,2356.9 1378.2,2364.1 1384.6,2367.8 1400.2,2362.1 1420.8,2371.1 1573.4,2477.1 1573.4,2503 1552.7,2510 1428.6,2510 1369.1,2518.5 1335.5,2496.5 1326,2504.7 1318.6,2528.8 1197.6,2401.3Z"/>
<path d="M1203.6,2333.1 1335.5,2492.7 M1225.6,2332.3 1351,2484.9 M1247.6,2331 1369.1,2478.4 M1225.6,2332.3 1229.5,2338.8 M1268.3,2334.9 1415.7,2478.4 M1281.2,2333.6 1426,2478.4" fill="none"/>
<path d="M1245,2391.8 1255.3,2399.6 1291.5,2440.9" fill="none" stroke-width="2.6"/>
<path d="M1304.5,2331 1348.4,2320.7 1407.9,2350.4 1379.5,2356.9Z"/>
<path d="M1281.2,2333.6 1304.5,2331" fill="none"/>
<path d="M1384.6,2367.8 1400.2,2362.1 1420.8,2371.1 1411.8,2382.2 1402.7,2372.9Z"/>
<path d="M1314.8,2334.9 1376.9,2363.4" fill="none"/>
<path d="M1282.5,2358.2 1289.5,2355.3 1375.6,2395.7 1376.9,2403.4 1365.8,2439.6 1361.4,2441.2 1281.2,2361Z"/>
<path d="M1375.6,2395.7 1362.7,2434.5 1361.4,2441.2 M1285.1,2360 1362.7,2434.5" fill="none"/>
<path d="M1335.5,2496.5 1376.9,2478.4 1415.7,2478.4 1424.7,2510 1369.1,2518.5Z"/>
<path d="M1415.7,2478.4 1573.4,2477.1 1573.4,2503 1552.7,2510 1428.6,2510 1424.7,2510Z"/>
<path d="M1402.7,2372.9 1413.1,2382.8 1410.5,2390.5 1432.5,2406 1441.5,2455.2 1462.2,2465.5 1460.9,2478.4 M1410.5,2390.5 1414.4,2389.2 1436.4,2404.7 1445.4,2452.6 1464.8,2462.4" fill="none"/>
<ellipse cx="1368.6" cy="2468.1" rx="5.7" ry="5.2"/>
<path d="M1459.6,2489.3 1466.1,2475.8 1493.2,2473.8 1511.3,2486.2 1508.8,2490.3Z" fill="#c4c4c4" stroke-width="2.6"/>
<path d="M1467.4,2484.9 1496.4,2482.3 1503.6,2486.7" fill="none"/>
<path d="M1503.6,2466.8 1506.7,2465.5 1513.9,2475.3 1510.8,2476.9Z" fill="#aaa"/>
<path d="M1460.9,2400.3 1468.7,2402.4 1477.7,2429.3 1470,2429.3Z" fill="#0a0a0a" stroke="none"/>
<path d="M1464.8,2433.4 1471.3,2432.4 1532,2447.4 1527.4,2450.5Z" fill="#0a0a0a" stroke="none"/>
<path d="M1484.2,2419.5 1492,2428" fill="none" stroke="#333" stroke-width="1.2" stroke-dasharray="1.2 0.6"/>
<path d="M1487.6,2417.7 1494.5,2425.4" fill="none" stroke="#333" stroke-width="1.2" stroke-dasharray="1.2 0.6"/>
<path d="M1067.7,2476.3 1064,2492 1216.4,2675.9 1218.8,2676.8 1225.7,2663.9 1230.3,2621.4 1235.8,2610.3 1252.5,2582.6 1259.5,2578.6 1146.8,2449.3 1121,2440.1 1089.6,2430.8Z"/>
<path d="M1067.7,2476.3 1115.7,2478.2 1110.2,2488.7 1064.4,2491.7Z"/>
<path d="M1110.2,2488.7 1224.7,2626.9 M1115.7,2478.2 1230.3,2615.8 M1128.7,2475.4 1235.7,2594.3 M1142.2,2471.1 1247,2587.5 M1155.8,2466.8 1258.4,2580.7 M1169.3,2462.5 1269.7,2573.9" fill="none"/>
<path d="M1134.2,2492.4 1182.3,2551.5" fill="none" stroke-width="3"/>
<path d="M1225.7,2591.8 1235.8,2584.4 1252.5,2582.6 1243.2,2601 1239.5,2610.3 1228.4,2604.7Z"/>
<path d="M1225.7,2663.9 1230.3,2621.4" fill="none"/>
<path d="M1089.6,2430.8 1087.7,2438.2 1092.3,2447.5 1121,2441 1146.8,2449.3 1170.8,2438.2 1180.1,2429 1197.6,2408.7 1197.6,2347.7 1185.6,2342.2 1170.8,2340.3 1121,2399.4 1106.2,2419.8Z"/>
<path d="M1115.4,2406.8 1163.5,2349.6 1178.2,2347.7" fill="none"/>
<path d="M1122.8,2401.3 1169.9,2354.2 1181,2364.3 1180.1,2397.6 1165.3,2412.4 1133.9,2420.7 1123.7,2419.8Z" fill="#c0c0c0"/>
<path d="M1125.8,2405.4 1171.6,2358.4 M1128,2408.9 1173.6,2361.4 M1130.4,2412.4 1175.6,2364.5 M1132.6,2415.9 1177.7,2367.5 M1135,2419.4 1179.7,2370.6" fill="none" stroke="#6a6a6a"/>
<path d="M1089.6,2429 1087.7,2438.2 1092.3,2447.5 1121,2440.1 1163.5,2433.1 1180.1,2426.2 1197.6,2408.7 1197.6,2347.7 1187.5,2342.2 1181.9,2353.3 1182.3,2397.6 1170.8,2407.2 1157.9,2417 1121,2422.5 1106.2,2419.8Z"/>
<path d="M1106.2,2419.8 1105.3,2441.9 M1121,2422.5 1121,2440.1 M1157.9,2417 1163.5,2433.1 M1170.8,2407.2 1180.1,2426.2 M1182.3,2397.6 1197.6,2408.7 M1181.9,2353.3 1197.6,2356.9 M1189.3,2344.9 1190.2,2406.8" fill="none"/>
<path d="M1171.8,2366.2 1169,2381 1165.7,2406.8 1157.9,2416.1 1133.9,2420.7 1108.4,2420.7" fill="none" stroke-width="6.5"/>
<path d="M1171.8,2366.2 1169,2381 1165.7,2406.8 1157.9,2416.1 1133.9,2420.7 1108.4,2420.7" fill="none" stroke="#cecece" stroke-width="3.2"/>
<path d="M1169,2438.2 1197.6,2408.7 1318.6,2528.8 1316.8,2550.9 1268.8,2586 1259.5,2578.6 1146.8,2449.3Z"/>
<path d="M1178.2,2432.7 1290.9,2560.2 M1193,2416.1 1307.6,2539.8" fill="none"/>
<g stroke-linecap="butt" stroke-linejoin="miter">
<path d="M1143.1,2446.5 1174.5,2481.1" fill="none" stroke="#0a0a0a" stroke-width="5.4"/>
<path d="M1173.1,2467.8 1175.5,2486.3 1180.1,2504.7 1193,2521.4 1218.9,2534.3" fill="none" stroke="#0a0a0a" stroke-width="3.2"/>
<path d="M1220.7,2534.3 1261.4,2577.2" fill="none" stroke="#0a0a0a" stroke-width="5.4"/>
<path d="M1222.6,2535.2 1237.4,2541.7" fill="none" stroke="#0a0a0a" stroke-width="3"/>
<path d="M1197.6,2401.3 1226.3,2430.8" fill="none" stroke="#0a0a0a" stroke-width="5.4"/>
<path d="M1211.5,2429.9 1231.8,2432.7 1246.6,2434.5 1254,2441.9 M1264.1,2452.1 1274.3,2462.3 1278,2486.3" fill="none" stroke="#0a0a0a" stroke-width="3.2"/>
<path d="M1276.1,2484.4 1313.1,2526" fill="none" stroke="#0a0a0a" stroke-width="5.4"/>
<path d="M1171.8,2440.1 1182.9,2441.2 1189.3,2426.2" fill="none" stroke="#0a0a0a" stroke-width="3.4"/>
</g>
<path d="M1180.1,2452.1 1197.6,2438.2" fill="none" stroke="#222" stroke-width="1.4" stroke-dasharray="1.3 0.5"/>
<path d="M1187.5,2455.8 1198.6,2447.5" fill="none" stroke="#222" stroke-width="1.4" stroke-dasharray="1.3 0.5"/>
<path d="M1242,2522.3 1263.2,2506.6" fill="none" stroke="#222" stroke-width="1.4" stroke-dasharray="1.3 0.5"/>
<path d="M1244.7,2526 1265.1,2510.3" fill="none" stroke="#222" stroke-width="1.4" stroke-dasharray="1.3 0.5"/>
<path d="M1250.3,2526.9 1261.4,2518.6" fill="none" stroke="#222" stroke-width="1.4" stroke-dasharray="1.3 0.5"/>
<path d="M1268.8,2514 1274.3,2510.3 1281.7,2521.4 1276.1,2525.1Z" fill="#999" stroke-width="2.4"/>
<path d="M1246.6,2534.3 1252.1,2530.6 1259.5,2541.7 1254,2545.4Z" fill="#999" stroke-width="2.4"/>
<path d="M1267.8,2549.1 1289.1,2534.3 1298.3,2543.5 1300.2,2553.1 1279.8,2567.6 1272.5,2558.3Z"/>
<path d="M1272.5,2558.3 1292.8,2544.5 1298.3,2543.5 M1276.1,2552.8 1292.8,2541.7" fill="none"/>
<path d="M1228.4,2586.3 1261.7,2579.2 1298.6,2549.3 1322.7,2512.4 1328.6,2499.4" fill="none" stroke-width="11"/>
<path d="M1228.4,2586.3 1261.7,2579.2 1298.6,2549.3 1322.7,2512.4 1328.6,2499.4" fill="none" stroke="#cecece" stroke-width="7.6"/>
<path d="M1322.7,2501.3 1335.6,2497.6 1340,2506.8 1328.2,2516.1Z"/>
</g></defs>
<g id="shead" fill="#cecece" stroke="#5c5c5c" stroke-width="2" stroke-linejoin="round" stroke-linecap="round">
<path d="M785,1946.2 825,1975 767.5,2047.5 727.5,2010Z" fill="#666" stroke="#5a5a5a" stroke-width="1"/>
<path d="M857.5,1938.8 867.5,1950 850,1975 845,1965Z" fill="#666" stroke="none"/>
<path d="M687.5,1810 700,1817.5 715,1860 725,1860 732.5,1840 750,1925 780,1940 790,1925 790,1820 733.8,1810Z"/>
<path d="M700,1817.5 712.5,1855 725,1860" fill="none"/>
<ellipse cx="767.5" cy="1850" rx="41.2" ry="50" stroke-width="2.4" transform="rotate(25 767.5 1850)"/>
<ellipse cx="770" cy="1851.2" rx="30" ry="37.5" transform="rotate(25 770 1851.2)"/>
<ellipse cx="775" cy="1852.5" rx="17.5" ry="21.2" stroke-width="2.4" transform="rotate(25 775 1852.5)"/>
<path d="M772.5,1820 780,1818.8 781.2,1826.2 773.8,1827.5Z"/>
<circle cx="752" cy="1850.8" r="3" fill="#cecece" stroke="#5c5c5c" stroke-width="2"/>
<circle cx="760" cy="1878.8" r="3" fill="#cecece" stroke="#5c5c5c" stroke-width="2"/>
<circle cx="745" cy="1865" r="5" fill="#cecece" stroke="#5c5c5c" stroke-width="2.4"/>
<circle cx="745" cy="1865" r="2.5" fill="#cecece" stroke="#5c5c5c" stroke-width="2"/>
<circle cx="757.5" cy="1928" r="3.5" fill="#cecece" stroke="#5c5c5c" stroke-width="2.4"/>
<path d="M732.5,1890 750,1925 780,1940 785,1917.5 765,1895 755,1875Z"/>
<path d="M790,1820 862.5,1875 847.5,1978.8 802.5,1952.5 780,1940 775,1900 790,1860Z"/>
<path d="M815,1872.5 810,1890 806.2,1912.5 801.2,1950" fill="none" stroke-width="2.6"/>
<path d="M806.2,1890 813.8,1883.8 822.5,1892.5 822.5,1905 815,1908 806.2,1900Z"/>
<path d="M855,1880 842.5,1972.5 M790,1947.5 847.5,1978.8" fill="none"/>
<path d="M817,1922.5 845.5,1941.2" fill="none" stroke="#1a1a1a" stroke-width="1.6" stroke-dasharray="1.3 0.5"/>
<path d="M822,1931.2 842.5,1945" fill="none" stroke="#1a1a1a" stroke-width="1.6" stroke-dasharray="1.3 0.5"/>
<path d="M671.2,1712.5 697.5,1718.8 687.5,1751.2 662.5,1743.8Z" fill="#666" stroke="#5a5a5a" stroke-width="1"/>
<path d="M697.5,1718.8 703.8,1713.8 711.2,1714.5 742.5,1756.2 748.8,1782.5 733.8,1810 712.5,1817.5 687.5,1810 688.8,1758.8Z" stroke-width="2.6"/>
<path d="M690,1773.8 750,1787.5 M690,1777.5 717.5,1786.2" fill="none"/>
<path d="M723.8,1762.5 733.8,1757.5 736.2,1761.2 726.2,1767Z" fill="#aaa"/>
<path d="M718.8,1782.5 725,1780 772.5,1795 772.5,1805 745,1810 720,1790Z"/>
<ellipse cx="731.2" cy="1785.5" rx="2.5" ry="1.8"/>
<path d="M782.5,1775 797.5,1760 862.5,1750 871.2,1758.8 842.5,1817.5 896.2,1856.2 850,1878.8 812.5,1872.5 797.5,1862.5 790,1825 782.5,1800Z" stroke-width="3"/>
<path d="M786.2,1783.8 800,1787.5 810,1783.8 816.2,1795 815,1805 842.5,1817.5 M800,1787.5 802.5,1782.5 812.5,1787.5" fill="none"/>
<circle cx="795.5" cy="1778" r="3.5" fill="#cecece" stroke="#5c5c5c" stroke-width="2.4"/>
<path d="M810,1810 860,1850 896.2,1856.2 M860,1850 850,1878.8" fill="none"/>
<path d="M847.5,1861.2 852.5,1861.2 852.5,1872.5 847.5,1872.5Z" fill="#999"/>
<path d="M790,1825 797.5,1820 800,1860" fill="none"/>
<path d="M812.5,1856.2 Q800,1842.5 805.5,1828.8" fill="none" stroke="#0a0a0a" stroke-width="3.6"/>
<path d="M802,1830 808,1824.5 810,1832.5Z" fill="#0a0a0a" stroke="none"/>
<path d="M818,1834.5 836.2,1847.5" fill="none" stroke="#1a1a1a" stroke-width="1.9" stroke-dasharray="1.5 0.5"/>
<path d="M813.8,1838.8 833.8,1853" fill="none" stroke="#1a1a1a" stroke-width="1.3" stroke-dasharray="1.5 0.5"/>
<path d="M811.2,1843.8 830,1857" fill="none" stroke="#1a1a1a" stroke-width="1.3" stroke-dasharray="1.5 0.5"/>
</g>
<g id="sconn" fill="#cecece" stroke="#5c5c5c" stroke-width="2" stroke-linejoin="round" stroke-linecap="round">
<path d="M972,2130 1014,2109 1031,2146 991,2176Z" fill="#666" stroke="none"/>
<path d="M1116,2332 1160,2308 1174,2352 1134,2384Z" fill="#666" stroke="none"/>
</g>
<g id="stail" fill="#cecece" stroke="#5c5c5c" stroke-width="2" stroke-linejoin="round" stroke-linecap="round">
<path d="M1332.5,2500 1350,2492.5 1353.8,2525 1368.8,2550 1296.2,2610 1280,2600 1267.5,2583.8 1325,2525Z"/>
<path d="M1353.8,2525 1340,2560" fill="none"/>
<path d="M1267.5,2583.8 1330,2546.2 1340,2560 1280,2600Z"/>
<path d="M1271.2,2586.2 1332,2548.8 M1273.8,2589.5 1334,2551.5 M1276.2,2592.8 1336,2554.2 M1278.8,2596 1338,2557 M1281.2,2599.2 1340,2559.8" fill="none" stroke="#5a5a5a" stroke-width="2.6"/>
<path d="M1296.2,2610 1368.8,2550 1393.8,2578.8 1322.5,2641.2Z"/>
<path d="M1302.5,2617.5 1375,2557.5 M1315,2632.5 1387.5,2572.5" fill="none"/>
<ellipse cx="1320" cy="2621.2" rx="8.5" ry="5.5" transform="rotate(-35 1320 2621.2)"/>
<ellipse cx="1320" cy="2621.2" rx="4.5" ry="3" transform="rotate(-35 1320 2621.2)"/>
<ellipse cx="1372.5" cy="2571.2" rx="8.5" ry="5.5" transform="rotate(-35 1372.5 2571.2)"/>
<ellipse cx="1372.5" cy="2571.2" rx="4.5" ry="3" transform="rotate(-35 1372.5 2571.2)"/>
<ellipse cx="1361.2" cy="2651.2" rx="8.5" ry="5.5" transform="rotate(-35 1361.2 2651.2)"/>
<ellipse cx="1361.2" cy="2651.2" rx="4.5" ry="3" transform="rotate(-35 1361.2 2651.2)"/>
<path d="M1325,2616.2 1367.5,2577.5" fill="none" stroke-width="3"/>
<path d="M1322.5,2641.2 1393.8,2578.8 1420,2632.5 1425,2650 1390,2680 1357.5,2660Z"/>
<path d="M1365,2615 1407.5,2665 M1385,2597.5 1420,2645" fill="none"/>
<ellipse cx="1398.8" cy="2622.5" rx="5" ry="6.5"/>
<path d="M1392.5,2647.5 1400,2638.8 1406.2,2642.5 1398.8,2652.5Z"/>
<path d="M1400,2667.5 1430,2638.8 1462.5,2645 1472.5,2607.5 1596.2,2853.8 1580,2830 1507.5,2747.5 1495,2750 1542.5,2815 1581.2,2869.5 1375,2693.8 1385,2690Z"/>
<path d="M1472.5,2607.5 1467.5,2627.5 1596.2,2853.8 M1400,2667.5 1460,2710 1542.5,2815" fill="none"/>
<path d="M1385,2690 1581.2,2869.5" fill="none" stroke-width="3"/>
<path d="M1430,2638.8 1495,2750" fill="none"/>
<path d="M1375,2693.8 1395,2672.5 1407.5,2695 1400,2690Z"/>
<path d="M1472.5,2697.5 1478.8,2685 1490,2685 1495,2670 1497.5,2672.5 1492.5,2690 1480,2690 1475,2710Z"/>
<path d="M1428.8,2728.8 1437.5,2725 1440,2721.2 1450,2721.2 1452.5,2725 1445,2728Z"/>
<path d="M1445,2702.5 1460,2710 1460,2720" fill="none"/>
</g>
<use href="#spod"/>
<use href="#spod" transform="translate(1033.8,2226) scale(0.835) translate(-1181.9,-2435.5)"/>
<use href="#spod" transform="translate(897.1,2015.2) scale(0.83) translate(-1181.9,-2435.5)"/>
<path d="M378.8,531.7 552.5,531.7 552.5,541.5 M570.5,568.2 751,568.2 M377.5,790.6 540.8,790.6 M526.3,726.2 540.8,726.2 540.8,1073.8 500.8,1073.8 M524.3,881.2 540.8,881.2 M660.8,924.3 660.8,1017.5 M660.8,1113 660.8,1242.5 M692.5,1312.5 1000,1312.5 M874,688.8 1000,688.8 M925.5,688.8 925.5,879 876,879 M915,1081.3 1000,1081.3" fill="none" stroke="#fff" stroke-width="4.6" stroke-linecap="butt" stroke-linejoin="miter"/>
<path d="M378.8,531.7 552.5,531.7 552.5,541.5 M570.5,568.2 751,568.2 M377.5,790.6 540.8,790.6 M526.3,726.2 540.8,726.2 540.8,1073.8 500.8,1073.8 M524.3,881.2 540.8,881.2 M660.8,924.3 660.8,1017.5 M660.8,1113 660.8,1242.5 M692.5,1312.5 1000,1312.5 M874,688.8 1000,688.8 M925.5,688.8 925.5,879 876,879 M915,1081.3 1000,1081.3" fill="none" stroke="#0a0a0a" stroke-width="2.1" stroke-linecap="butt" stroke-linejoin="miter"/>
<g transform="translate(272.3,515.3)"><rect x="1.1" y="1.1" width="31.8" height="31.8" rx="2.6" fill="#c2c2c2" stroke="#2a2a2a" stroke-width="2.2"/><ellipse cx="17.4" cy="21.6" rx="10" ry="4.5" fill="#0a0a0a" transform="rotate(-6 17.4 21.6)"/><path d="M16.2,20.8 L20.6,2.2 L30.5,2.2 Q32,2.2 32,4 L32,8.2 Q25,16 16.2,20.8Z" fill="#fff" stroke="#222" stroke-width="1.1" stroke-linejoin="round"/></g>
<circle cx="340" cy="531.7" r="15.8" fill="#fff" stroke="#0a0a0a" stroke-width="2.3"/>
<text x="340" y="539.1" font-size="20.5" text-anchor="middle" fill="#0a0a0a" stroke="#0a0a0a" stroke-width="0.45" textLength="22.5" lengthAdjust="spacingAndGlyphs">05</text>
<g transform="translate(221.2,774)"><rect x="0.5" y="0.5" width="34" height="33" fill="#fff" stroke="#111" stroke-width="1"/><rect x="0" y="0" width="18.2" height="34" fill="#111"/><path d="M4,16.9 L11.5,2.8 L11.5,9.8 L18.4,9.8 L18.4,24 L11.5,24 L11.5,30.6Z" fill="#fff"/><path d="M31.8,16.9 L24.8,3.2 L24.8,9.8 L18.1,9.8 L18.1,24 L24.8,24 L24.8,30.2Z" fill="#111"/></g>
<g transform="translate(272.3,774)"><rect x="1.1" y="1.1" width="31.8" height="31.8" rx="2.6" fill="#c2c2c2" stroke="#2a2a2a" stroke-width="2.2"/><ellipse cx="17.4" cy="21.6" rx="10" ry="4.5" fill="#0a0a0a" transform="rotate(-6 17.4 21.6)"/><path d="M16.2,20.8 L20.6,2.2 L30.5,2.2 Q32,2.2 32,4 L32,8.2 Q25,16 16.2,20.8Z" fill="#fff" stroke="#222" stroke-width="1.1" stroke-linejoin="round"/></g>
<circle cx="340" cy="790.6" r="15.8" fill="#fff" stroke="#0a0a0a" stroke-width="2.3"/>
<text x="340" y="798" font-size="20.5" text-anchor="middle" fill="#0a0a0a" stroke="#0a0a0a" stroke-width="0.45" textLength="22.5" lengthAdjust="spacingAndGlyphs">18</text>
<circle cx="1035.5" cy="688.4" r="17.5" fill="#0a0a0a"/>
<text x="1035.5" y="696.1" font-size="21.5" text-anchor="middle" fill="#fff" stroke="#fff" stroke-width="0.35" textLength="21.5" lengthAdjust="spacingAndGlyphs">E1</text>
<circle cx="1084.3" cy="688.4" r="17.5" fill="#0a0a0a"/>
<text x="1084.3" y="696.1" font-size="21.5" text-anchor="middle" fill="#fff" stroke="#fff" stroke-width="0.35" textLength="21.5" lengthAdjust="spacingAndGlyphs">E2</text>
<g transform="translate(1116.1,672)"><rect x="1.1" y="1.1" width="31.8" height="31.8" rx="2.6" fill="#c2c2c2" stroke="#2a2a2a" stroke-width="2.2"/><ellipse cx="17.4" cy="21.6" rx="10" ry="4.5" fill="#0a0a0a" transform="rotate(-6 17.4 21.6)"/><path d="M16.2,20.8 L20.6,2.2 L30.5,2.2 Q32,2.2 32,4 L32,8.2 Q25,16 16.2,20.8Z" fill="#fff" stroke="#222" stroke-width="1.1" stroke-linejoin="round"/></g>
<g transform="translate(1165,672)"><rect x="0.5" y="0.5" width="34" height="33" fill="#fff" stroke="#111" stroke-width="1"/><rect x="0" y="0" width="18.2" height="34" fill="#111"/><path d="M4,16.9 L11.5,2.8 L11.5,9.8 L18.4,9.8 L18.4,24 L11.5,24 L11.5,30.6Z" fill="#fff"/><path d="M31.8,16.9 L24.8,3.2 L24.8,9.8 L18.1,9.8 L18.1,24 L24.8,24 L24.8,30.2Z" fill="#111"/></g>
<circle cx="1035.5" cy="1080.8" r="17.5" fill="#0a0a0a"/>
<text x="1035.5" y="1088.5" font-size="21.5" text-anchor="middle" fill="#fff" stroke="#fff" stroke-width="0.35" textLength="21.5" lengthAdjust="spacingAndGlyphs">F1</text>
<circle cx="1084.3" cy="1080.8" r="17.5" fill="#0a0a0a"/>
<text x="1084.3" y="1088.5" font-size="21.5" text-anchor="middle" fill="#fff" stroke="#fff" stroke-width="0.35" textLength="21.5" lengthAdjust="spacingAndGlyphs">F2</text>
<g transform="translate(1116.1,1063.2)"><rect x="1.1" y="1.1" width="31.8" height="31.8" rx="2.6" fill="#c2c2c2" stroke="#2a2a2a" stroke-width="2.2"/><ellipse cx="17.4" cy="21.6" rx="10" ry="4.5" fill="#0a0a0a" transform="rotate(-6 17.4 21.6)"/><path d="M16.2,20.8 L20.6,2.2 L30.5,2.2 Q32,2.2 32,4 L32,8.2 Q25,16 16.2,20.8Z" fill="#fff" stroke="#222" stroke-width="1.1" stroke-linejoin="round"/></g>
<circle cx="1035.5" cy="1311.8" r="15.8" fill="#fff" stroke="#0a0a0a" stroke-width="2.3"/>
<text x="1035.5" y="1319.2" font-size="20.5" text-anchor="middle" fill="#0a0a0a" stroke="#0a0a0a" stroke-width="0.45" textLength="22.5" lengthAdjust="spacingAndGlyphs">15</text>
<g transform="translate(1066.2,1294.4)"><rect x="1.1" y="1.1" width="31.8" height="31.8" rx="2.6" fill="#c2c2c2" stroke="#2a2a2a" stroke-width="2.2"/><ellipse cx="17.4" cy="21.6" rx="10" ry="4.5" fill="#0a0a0a" transform="rotate(-6 17.4 21.6)"/><path d="M16.2,20.8 L20.6,2.2 L30.5,2.2 Q32,2.2 32,4 L32,8.2 Q25,16 16.2,20.8Z" fill="#fff" stroke="#222" stroke-width="1.1" stroke-linejoin="round"/></g>
<path d="M1213,532.7 1532.5,532.7 1532.5,565.7 M1532.5,602 1532.5,738 M1532.5,786 1532.5,934.5 M1212,1199.5 1384.3,1199.5 1472.4,1110.6" fill="none" stroke="#fff" stroke-width="4.6" stroke-linecap="butt" stroke-linejoin="miter"/>
<path d="M1213,532.7 1532.5,532.7 1532.5,565.7 M1532.5,602 1532.5,738 M1532.5,786 1532.5,934.5 M1212,1199.5 1384.3,1199.5 1472.4,1110.6" fill="none" stroke="#0a0a0a" stroke-width="2.1" stroke-linecap="butt" stroke-linejoin="miter"/>
<g transform="translate(1116.1,516.3)"><rect x="1.1" y="1.1" width="31.8" height="31.8" rx="2.6" fill="#c2c2c2" stroke="#2a2a2a" stroke-width="2.2"/><ellipse cx="17.4" cy="21.6" rx="10" ry="4.5" fill="#0a0a0a" transform="rotate(-6 17.4 21.6)"/><path d="M16.2,20.8 L20.6,2.2 L30.5,2.2 Q32,2.2 32,4 L32,8.2 Q25,16 16.2,20.8Z" fill="#fff" stroke="#222" stroke-width="1.1" stroke-linejoin="round"/></g>
<circle cx="1178.5" cy="532.7" r="15.8" fill="#fff" stroke="#0a0a0a" stroke-width="2.3"/>
<text x="1178.5" y="540.1" font-size="20.5" text-anchor="middle" fill="#0a0a0a" stroke="#0a0a0a" stroke-width="0.45" textLength="22.5" lengthAdjust="spacingAndGlyphs">17</text>
<g transform="translate(1116.1,1184.2)"><rect x="1.1" y="1.1" width="31.8" height="31.8" rx="2.6" fill="#c2c2c2" stroke="#2a2a2a" stroke-width="2.2"/><ellipse cx="17.4" cy="21.6" rx="10" ry="4.5" fill="#0a0a0a" transform="rotate(-6 17.4 21.6)"/><path d="M16.2,20.8 L20.6,2.2 L30.5,2.2 Q32,2.2 32,4 L32,8.2 Q25,16 16.2,20.8Z" fill="#fff" stroke="#222" stroke-width="1.1" stroke-linejoin="round"/></g>
<circle cx="1180.8" cy="1200.6" r="15.8" fill="#fff" stroke="#0a0a0a" stroke-width="2.3"/>
<text x="1180.8" y="1208" font-size="20.5" text-anchor="middle" fill="#0a0a0a" stroke="#0a0a0a" stroke-width="0.45" textLength="22.5" lengthAdjust="spacingAndGlyphs">11</text>
<path d="M1296.5,1753.9 916.6,1753.9 835,1835 M633.6,1938.6 821,1938.6 M963,2088.6 1298.6,2088.6 1298.6,2514.5 1278.7,2514.5 M1105,2298 1298.6,2298 M1171.5,2451 826.5,2451 826.5,2003 892,2003 892,2014 M826.5,2224.6 1015,2224.6" fill="none" stroke="#fff" stroke-width="4.6" stroke-linecap="butt" stroke-linejoin="miter"/>
<path d="M1296.5,1753.9 916.6,1753.9 835,1835 M633.6,1938.6 821,1938.6 M963,2088.6 1298.6,2088.6 1298.6,2514.5 1278.7,2514.5 M1105,2298 1298.6,2298 M1171.5,2451 826.5,2451 826.5,2003 892,2003 892,2014 M826.5,2224.6 1015,2224.6" fill="none" stroke="#0a0a0a" stroke-width="2.1" stroke-linecap="butt" stroke-linejoin="miter"/>
<circle cx="1334" cy="1752.8" r="15.8" fill="#fff" stroke="#0a0a0a" stroke-width="2.3"/>
<text x="1334" y="1760.2" font-size="20.5" text-anchor="middle" fill="#0a0a0a" stroke="#0a0a0a" stroke-width="0.45" textLength="22.5" lengthAdjust="spacingAndGlyphs">04</text>
<g transform="translate(1370.2,1736)"><rect x="1.1" y="1.1" width="31.8" height="31.8" rx="2.6" fill="#c2c2c2" stroke="#2a2a2a" stroke-width="2.2"/><ellipse cx="17.4" cy="21.6" rx="10" ry="4.5" fill="#0a0a0a" transform="rotate(-6 17.4 21.6)"/><path d="M16.2,20.8 L20.6,2.2 L30.5,2.2 Q32,2.2 32,4 L32,8.2 Q25,16 16.2,20.8Z" fill="#fff" stroke="#222" stroke-width="1.1" stroke-linejoin="round"/></g>
<g transform="translate(1424,1736)"><rect x="0.5" y="0.5" width="34" height="33" fill="#fff" stroke="#111" stroke-width="1"/><rect x="0" y="0" width="18.2" height="34" fill="#111"/><path d="M4,16.9 L11.5,2.8 L11.5,9.8 L18.4,9.8 L18.4,24 L11.5,24 L11.5,30.6Z" fill="#fff"/><path d="M31.8,16.9 L24.8,3.2 L24.8,9.8 L18.1,9.8 L18.1,24 L24.8,24 L24.8,30.2Z" fill="#111"/></g>
<g transform="translate(477,1921.8)"><rect x="0.5" y="0.5" width="34" height="33" fill="#fff" stroke="#111" stroke-width="1"/><rect x="0" y="0" width="18.2" height="34" fill="#111"/><path d="M4,16.9 L11.5,2.8 L11.5,9.8 L18.4,9.8 L18.4,24 L11.5,24 L11.5,30.6Z" fill="#fff"/><path d="M31.8,16.9 L24.8,3.2 L24.8,9.8 L18.1,9.8 L18.1,24 L24.8,24 L24.8,30.2Z" fill="#111"/></g>
<g transform="translate(528.7,1921.8)"><rect x="1.1" y="1.1" width="31.8" height="31.8" rx="2.6" fill="#c2c2c2" stroke="#2a2a2a" stroke-width="2.2"/><ellipse cx="17.4" cy="21.6" rx="10" ry="4.5" fill="#0a0a0a" transform="rotate(-6 17.4 21.6)"/><path d="M16.2,20.8 L20.6,2.2 L30.5,2.2 Q32,2.2 32,4 L32,8.2 Q25,16 16.2,20.8Z" fill="#fff" stroke="#222" stroke-width="1.1" stroke-linejoin="round"/></g>
<circle cx="596.7" cy="1938.6" r="15.8" fill="#fff" stroke="#0a0a0a" stroke-width="2.3"/>
<text x="596.7" y="1946" font-size="20.5" text-anchor="middle" fill="#0a0a0a" stroke="#0a0a0a" stroke-width="0.45" textLength="22.5" lengthAdjust="spacingAndGlyphs">14</text>
<circle cx="1333.6" cy="2088.6" r="15.8" fill="#fff" stroke="#0a0a0a" stroke-width="2.3"/>
<text x="1333.6" y="2096" font-size="20.5" text-anchor="middle" fill="#0a0a0a" stroke="#0a0a0a" stroke-width="0.45" textLength="22.5" lengthAdjust="spacingAndGlyphs">17</text>
<g transform="translate(1370.2,2071.8)"><rect x="1.1" y="1.1" width="31.8" height="31.8" rx="2.6" fill="#c2c2c2" stroke="#2a2a2a" stroke-width="2.2"/><ellipse cx="17.4" cy="21.6" rx="10" ry="4.5" fill="#0a0a0a" transform="rotate(-6 17.4 21.6)"/><path d="M16.2,20.8 L20.6,2.2 L30.5,2.2 Q32,2.2 32,4 L32,8.2 Q25,16 16.2,20.8Z" fill="#fff" stroke="#222" stroke-width="1.1" stroke-linejoin="round"/></g>
<g transform="translate(1424,2071.8)"><rect x="0.5" y="0.5" width="34" height="33" fill="#fff" stroke="#111" stroke-width="1"/><rect x="0" y="0" width="18.2" height="34" fill="#111"/><path d="M4,16.9 L11.5,2.8 L11.5,9.8 L18.4,9.8 L18.4,24 L11.5,24 L11.5,30.6Z" fill="#fff"/><path d="M31.8,16.9 L24.8,3.2 L24.8,9.8 L18.1,9.8 L18.1,24 L24.8,24 L24.8,30.2Z" fill="#111"/></g>
<g transform="translate(669,2434.5)"><rect x="0.5" y="0.5" width="34" height="33" fill="#fff" stroke="#111" stroke-width="1"/><rect x="0" y="0" width="18.2" height="34" fill="#111"/><path d="M4,16.9 L11.5,2.8 L11.5,9.8 L18.4,9.8 L18.4,24 L11.5,24 L11.5,30.6Z" fill="#fff"/><path d="M31.8,16.9 L24.8,3.2 L24.8,9.8 L18.1,9.8 L18.1,24 L24.8,24 L24.8,30.2Z" fill="#111"/></g>
<g transform="translate(722.3,2434.5)"><rect x="1.1" y="1.1" width="31.8" height="31.8" rx="2.6" fill="#c2c2c2" stroke="#2a2a2a" stroke-width="2.2"/><ellipse cx="17.4" cy="21.6" rx="10" ry="4.5" fill="#0a0a0a" transform="rotate(-6 17.4 21.6)"/><path d="M16.2,20.8 L20.6,2.2 L30.5,2.2 Q32,2.2 32,4 L32,8.2 Q25,16 16.2,20.8Z" fill="#fff" stroke="#222" stroke-width="1.1" stroke-linejoin="round"/></g>
<circle cx="792.5" cy="2451" r="15.8" fill="#fff" stroke="#0a0a0a" stroke-width="2.3"/>
<text x="792.5" y="2458.4" font-size="20.5" text-anchor="middle" fill="#0a0a0a" stroke="#0a0a0a" stroke-width="0.45" textLength="22.5" lengthAdjust="spacingAndGlyphs">16</text>
</svg>
</body></html>
